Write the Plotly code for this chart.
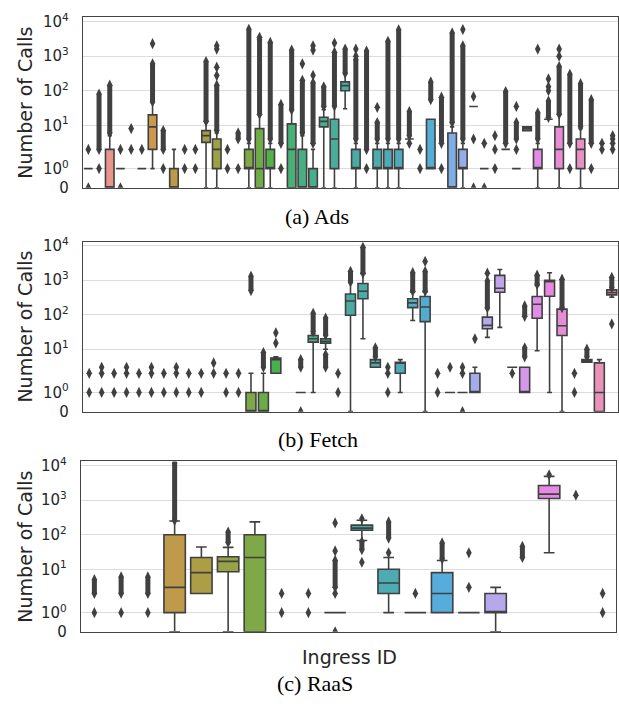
import math
import colorsys
import plotly.graph_objects as go

# ---------------- data ----------------
N_ADS, N_FETCH, N_RAAS = 50, 43, 20

# boxes: (ingress index, lower whisker, q1, median, q3, upper whisker)
ADS_BOXES = [
    (0, 1, 1, 1, 1, 1), (2, 0, 0, 0, 2, 5), (3, 1, 1, 1, 1, 1), (5, 1, 1, 1, 1, 1),
    (6, 1, 2, 9, 20, 45), (8, 0, 0, 0, 1, 2), (11, 0, 3.2, 5, 7, 12), (12, 0, 1, 2, 4, 6),
    (15, 0, 1, 1, 2, 3), (16, 0, 0, 1, 8, 20), (17, 0, 1, 1, 2, 3), (19, 0, 0, 2, 11, 27),
    (20, 0, 0, 0, 2, 5), (21, 0, 0, 0, 1, 2), (22, 0, 9, 13, 17, 28), (23, 0, 1, 4, 15, 35),
    (24, 30, 100, 140, 180, 300), (25, 0, 1, 1, 2, 3), (27, 0, 1, 1, 2, 3), (28, 0, 1, 1, 2, 3),
    (29, 0, 1, 1, 2, 3), (30, 4, 4, 4, 4, 4), (32, 1, 1, 1, 15, 15), (34, 0, 0, 0, 6, 9),
    (35, 0, 1, 1, 2, 3), (36, 35, 35, 35, 35, 35), (37, 1, 1, 1, 1, 1), (39, 2, 2, 2, 2, 2),
    (40, 1, 1, 1, 1, 1), (41, 7, 7, 8, 9, 9), (42, 0, 1, 1, 2, 3), (43, 15, 15, 15, 15, 15),
    (44, 0, 1, 2, 9, 20), (46, 0, 1, 2, 4, 8),
]
# single outliers: (ingress index, [values])
ADS_POINTS = [
    (0, [0, 2]), (1, [1]), (3, [0, 2]), (4, [2, 8]), (5, [2]), (6, [2300]), (7, [1]),
    (9, [1, 2]), (10, [1, 2]), (12, [275, 480, 1600, 2000]), (13, [1, 2]), (14, [1]),
    (16, [3500]), (18, [1]), (20, [600]), (21, [280, 1500, 2000]), (23, [2400]),
    (25, [1000, 1600]), (26, [1]), (27, [33]), (30, [3]), (31, [1, 2]), (33, [1]),
    (35, [5900]), (36, [0, 4, 68]), (37, [0, 3]), (38, [1, 2, 5]), (40, [2, 35]),
    (42, [1600]), (43, [100, 130, 220]), (44, [1000, 1600]), (45, [1]), (47, [1]),
    (48, [2, 3]), (49, [2, 3, 4, 5]),
]
# dense outlier runs: (ingress index, lowest, highest)
ADS_RUNS = [
    (1, 2, 80), (2, 6, 145), (6, 48, 600), (7, 2, 7), (11, 13, 700), (12, 7, 145), (14, 4, 6),
    (15, 4, 6000), (16, 21, 3000), (17, 4, 2500), (18, 3, 40), (19, 28, 1500), (20, 6, 200),
    (21, 3, 170), (22, 35, 130), (23, 36, 1300), (24, 320, 1600), (25, 4, 800), (26, 2, 1400),
    (27, 4, 12), (28, 4, 2700), (29, 4, 5800), (30, 5, 25), (32, 55, 180), (33, 3, 65),
    (34, 12, 4700), (35, 4, 2000), (39, 3, 95), (40, 4, 12), (42, 4, 23), (43, 17, 50),
    (44, 21, 500), (45, 3, 300), (46, 9, 160), (47, 3, 55),
]

FETCH_BOXES = [
    (13, 0, 0, 0, 1, 2), (14, 0, 0, 0, 1, 2), (15, 2, 2, 5, 5.5, 6), (17, 1, 1, 1, 1, 1),
    (18, 1, 16, 20, 25, 28), (19, 10, 15, 17, 20, 25), (21, 0, 96, 250, 400, 850),
    (22, 20, 290, 480, 800, 1550), (23, 3, 3, 4, 5, 5), (25, 1, 2, 4, 4.2, 5),
    (26, 68, 160, 220, 290, 450), (27, 0, 63, 168, 338, 450), (29, 1, 1, 1, 1, 1),
    (30, 1, 1, 1, 1, 1), (31, 1, 1, 1, 2, 3), (32, 22, 39, 49, 85, 150),
    (33, 43, 447, 582, 1380, 2040), (34, 3, 3, 3, 3, 3), (35, 1, 1, 1, 3, 3),
    (36, 9, 79, 200, 338, 700), (37, 1, 342, 900, 1000, 1640), (38, 0, 25, 48, 145, 150),
    (40, 4.2, 4.2, 4.6, 5, 5), (41, 0, 0, 1, 4, 5), (42, 323, 376, 437, 525, 540),
]
FETCH_POINTS = [
    (0, [1, 2]), (1, [1, 2, 3]), (2, [1, 2]), (3, [1, 2, 3]), (4, [1, 2]), (5, [1, 2, 3]),
    (6, [1, 2]), (7, [1, 2, 3]), (8, [1, 2]), (9, [1, 2]), (10, [2, 4]), (11, [1, 2]),
    (12, [1, 2]), (15, [15, 30]), (17, [0]), (20, [1, 2]), (24, [1, 2, 3]), (27, [3500]),
    (28, [1, 2]), (29, [3]), (30, [0, 2, 3]), (31, [20]), (32, [1600]), (34, [2]),
    (39, [1, 2]), (42, [54]),
]
FETCH_RUNS = [
    (13, 500, 1300), (14, 3, 8), (17, 3, 5), (18, 32, 110), (19, 26, 80), (19, 3, 7),
    (21, 900, 1800), (22, 1600, 9000), (23, 6, 11), (26, 480, 1650), (27, 480, 1800),
    (32, 160, 950), (35, 6, 11), (35, 90, 180), (36, 750, 1400), (38, 160, 1070),
    (40, 6, 10), (42, 600, 1200),
]

RAAS_BOXES = [
    (3, 0, 1, 3, 100, 250), (4, 2, 2, 8, 22, 44), (5, 0, 8.5, 17, 23, 43),
    (6, 0, 0, 22, 100, 235), (9, 1, 1, 1, 1, 1), (10, 68, 135, 155, 190, 263),
    (11, 1, 2, 4, 10, 22), (12, 1, 1, 1, 1, 1), (13, 1, 1, 2, 8, 18), (14, 1, 1, 1, 1, 1),
    (15, 0, 1, 1, 2, 3), (17, 30, 1120, 1500, 2660, 4900),
]
RAAS_POINTS = [
    (0, [1]), (1, [1]), (2, [1]), (7, [1, 2]), (8, [1, 2]), (9, [0, 2, 34, 220]),
    (10, [16, 290]), (11, [30]), (12, [2]), (14, [3, 30]), (17, [5400]), (18, [1400]),
    (19, [1, 2]),
]
RAAS_RUNS = [
    (0, 2, 5), (1, 2, 6), (2, 2, 6), (3, 260, 12000), (5, 60, 120), (9, 3, 18),
    (10, 37, 63), (11, 80, 235), (13, 20, 58), (16, 22, 46),
]

Y_TICK_VALUES = [0, 1, 10, 100, 1000, 10000]
Y_TICK_TEXT = ["0", "10<sup>0</sup>", "10<sup>1</sup>", "10<sup>2</sup>",
               "10<sup>3</sup>", "10<sup>4</sup>"]
CAPTIONS = ["(a) Ads", "(b) Fetch", "(c) RaaS"]
Y_LABEL = "Number of Calls"
X_LABEL = "Ingress ID"

# ---------------- symlog scale (linthresh=2, linscale=1) ----------------
LINTHRESH = 2.0
LINSCALE_ADJ = 1.0 / (1.0 - 1.0 / 10.0)


def symlog(v):
    if v <= LINTHRESH:
        return v * LINSCALE_ADJ
    return LINTHRESH * (LINSCALE_ADJ + math.log10(v / LINTHRESH))


# ---------------- husl palette (as seaborn) ----------------
_M = [[3.2406, -1.5372, -0.4986], [-0.9689, 1.8758, 0.0415], [0.0557, -0.2040, 1.0570]]
_REFU, _REFV = 0.19784, 0.46834


def _max_chroma(L, H):
    hrad = math.radians(H)
    sinH, cosH = math.sin(hrad), math.cos(hrad)
    sub1 = (L + 16) ** 3 / 1560896.0
    sub2 = sub1 if sub1 > 0.008856 else L / 903.3
    result = float("inf")
    for m1, m2, m3 in _M:
        top = (0.99915 * m1 + 1.05122 * m2 + 1.14460 * m3) * sub2
        rbottom = 0.86330 * m3 - 0.17266 * m2
        lbottom = 0.12949 * m3 - 0.38848 * m1
        bottom = (rbottom * sinH + lbottom * cosH) * sub2
        for t in (0.0, 1.0):
            C = L * (top - 1.05122 * t) / (bottom + 0.17266 * sinH * t)
            if 0.0 < C < result:
                result = C
    return result


def _husl_to_rgb(H, S, L):
    C = _max_chroma(L, H) / 100.0 * S
    hr = math.radians(H)
    U, V = math.cos(hr) * C, math.sin(hr) * C
    t = (L + 16.0) / 116.0
    Y = t ** 3 if t ** 3 > 0.008856 else (116.0 * t - 16.0) / 903.3
    vu = U / (13.0 * L) + _REFU
    vv = V / (13.0 * L) + _REFV
    X = -(9.0 * Y * vu) / ((vu - 4.0) * vv - vu * vv)
    Z = (9.0 * Y - 15.0 * vv * Y - vv * X) / (3.0 * vv)
    out = []
    for row in _M:
        c = row[0] * X + row[1] * Y + row[2] * Z
        c = 12.92 * c if c <= 0.0031308 else 1.055 * c ** (1 / 2.4) - 0.055
        out.append(min(max(c, 0.0), 1.0))
    return out


def seaborn_colors(n):
    cols = []
    for i in range(n):
        h = ((i / n) + 0.01) % 1 * 359
        r, g, b = _husl_to_rgb(h, 0.9 * 99, 0.7 * 99)
        hh, ll, ss = colorsys.rgb_to_hls(r, g, b)
        r, g, b = colorsys.hls_to_rgb(hh, ll, ss * 0.75)
        cols.append("rgb(%d,%d,%d)" % (round(r * 255), round(g * 255), round(b * 255)))
    return cols, "rgb(64,64,64)"


# ---------------- figure ----------------
W, H = 619, 707
fig = go.Figure()

PANELS = [
    (N_ADS, ADS_BOXES, ADS_POINTS, ADS_RUNS, (83, 618), (10.7, 185)),
    (N_FETCH, FETCH_BOXES, FETCH_POINTS, FETCH_RUNS, (83, 618), (240, 414)),
    (N_RAAS, RAAS_BOXES, RAAS_POINTS, RAAS_RUNS, (81, 616), (465, 639.3)),
]
CAPTION_POS = [(317, 214), (317.5, 443), (314.5, 692)]

ymax = 9.86
for p, (n, boxes, points, runs, xpx, ypx) in enumerate(PANELS):
    sfx = "" if p == 0 else str(p + 1)
    xa, ya = "x" + sfx, "y" + sfx
    colors, gray = seaborn_colors(n)
    for (k, wlo, q1, med, q3, whi) in boxes:
        fig.add_trace(go.Box(
            x=[k], q1=[symlog(q1)], median=[symlog(med)], q3=[symlog(q3)],
            lowerfence=[symlog(wlo)], upperfence=[symlog(whi)],
            width=0.8, whiskerwidth=0.5, fillcolor=colors[k],
            line=dict(color=gray, width=1.6), boxpoints=False,
            xaxis=xa, yaxis=ya, showlegend=False, hoverinfo="skip"))
    rx, ry = [], []
    for (k, lo, hi) in runs:
        rx += [k, k, None]
        ry += [symlog(lo), symlog(hi), None]
    fig.add_trace(go.Scatter(
        x=rx, y=ry, mode="lines+markers", line=dict(color=gray, width=5),
        marker=dict(symbol="diamond-tall", size=8, color=gray),
        xaxis=xa, yaxis=ya, showlegend=False, hoverinfo="skip"))
    px_, py_ = [], []
    for (k, vals) in points:
        for v in vals:
            px_.append(k)
            py_.append(symlog(v))
    fig.add_trace(go.Scatter(
        x=px_, y=py_, mode="markers",
        marker=dict(symbol="diamond-tall", size=8, color=gray),
        xaxis=xa, yaxis=ya, showlegend=False, hoverinfo="skip"))

    fig.layout["xaxis" + sfx] = dict(
        domain=[xpx[0] / W, xpx[1] / W], range=[-0.5, n - 0.5], anchor=ya,
        showgrid=False, zeroline=False, showticklabels=False, ticks="",
        showline=True, mirror=True, linecolor="#444444", linewidth=1.4)
    fig.layout["yaxis" + sfx] = dict(
        domain=[1 - ypx[1] / H, 1 - ypx[0] / H], range=[0, ymax], anchor=xa,
        tickvals=[symlog(v) for v in Y_TICK_VALUES], ticktext=Y_TICK_TEXT,
        ticks="", ticklabelstandoff=10, showgrid=True, gridcolor="#dcdcdc", gridwidth=1.2,
        zeroline=False, showline=True, mirror=True, linecolor="#444444", linewidth=1.4,
        tickfont=dict(family="DejaVu Sans", size=15, color="#262626"))
    fig.add_annotation(
        x=25 / W, y=1 - (ypx[0] + ypx[1]) / 2 / H, xref="paper", yref="paper",
        xanchor="center", yanchor="middle",
        text=Y_LABEL, textangle=-90, showarrow=False,
        font=dict(family="DejaVu Sans", size=19, color="#262626"))
    cx, cy = CAPTION_POS[p]
    fig.add_annotation(
        x=cx / W, y=1 - cy / H, xref="paper", yref="paper", text=CAPTIONS[p],
        xanchor="center", yanchor="middle",
        showarrow=False, font=dict(family="Liberation Serif", size=22, color="black"))

fig.add_annotation(
    x=349 / W, y=1 - 665 / H, xref="paper", yref="paper", text=X_LABEL,
    xanchor="center", yanchor="middle",
    showarrow=False, font=dict(family="DejaVu Sans", size=19, color="#262626"))

fig.update_layout(
    width=W, height=H, margin=dict(l=0, r=0, t=0, b=0), boxmode="overlay",
    plot_bgcolor="white", paper_bgcolor="white", showlegend=False)

fig.write_html("out.html", config={"displayModeBar": False},
               post_script="document.body.style.margin='0px';")
